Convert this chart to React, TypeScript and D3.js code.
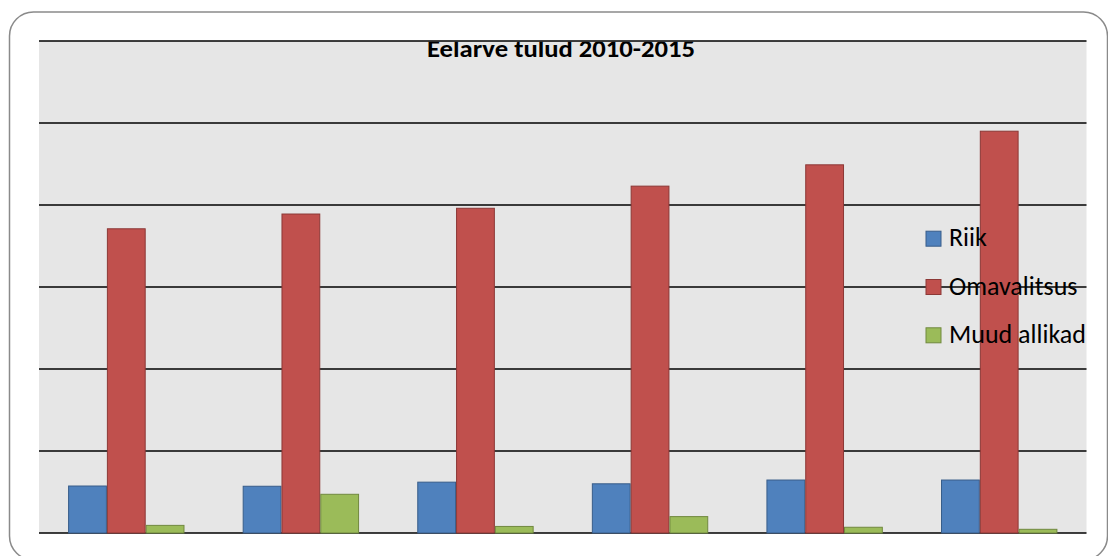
import React from "react";
import * as d3 from "d3";

const years = ["2010", "2011", "2012", "2013", "2014", "2015"];
const seriesNames = ["Riik", "Omavalitsus", "Muud allikad"];
const riik = [0.573, 0.57, 0.62, 0.6, 0.646, 0.646];
const omavalitsus = [3.71, 3.89, 3.96, 4.23, 4.49, 4.9];
const muudAllikad = [0.093, 0.472, 0.08, 0.2, 0.07, 0.045];
const yTicks = [0, 1, 2, 3, 4, 5, 6];
const title = "Eelarve tulud 2010-2015";

const fills = ["#4F81BD", "#C0504D", "#9BBB59"];
const strokes = ["#385D8A", "#8C3836", "#71893F"];

export default function App() {
  const W = 1108;
  const H = 556;
  const plot = { left: 39, right: 1086.5, top: 41, bottom: 533 };
  const values = [riik, omavalitsus, muudAllikad];

  const x0 = d3
    .scaleBand<string>()
    .domain(years)
    .range([plot.left, plot.right])
    .paddingInner(0)
    .paddingOuter(0);
  const bw = x0.bandwidth();
  const barW = bw / (3 + 1.5);
  const x1 = d3
    .scaleBand<string>()
    .domain(seriesNames)
    .range([barW * 0.75, barW * 0.75 + barW * 3])
    .padding(0);
  const y = d3.scaleLinear().domain([0, 6]).range([plot.bottom, plot.top]);

  const font = "Carlito, Calibri, 'Open Sans', 'Liberation Sans', sans-serif";
  const legendX = 926;
  const legendY0 = 238.7;
  const legendStep = 48.3;

  return (
    <svg
      width={W}
      height={H}
      style={{ position: "absolute", left: 0, top: 0, display: "block" }}
    >
      <defs>
        <clipPath id="titleClip">
          <rect x={0} y={41.8} width={W} height={H} />
        </clipPath>
      </defs>
      <rect x={0} y={0} width={W} height={H} fill="#ffffff" />
      <rect
        x={9.5}
        y={12}
        width={1098}
        height={548}
        rx={24}
        ry={24}
        fill="#ffffff"
        stroke="#8a8a8a"
        strokeWidth={1.5}
      />
      <rect
        x={plot.left}
        y={plot.top}
        width={plot.right - plot.left}
        height={plot.bottom - plot.top}
        fill="#E6E6E6"
      />
      {yTicks.map((t) => (
        <line
          key={t}
          x1={plot.left}
          x2={plot.right}
          y1={y(t)}
          y2={y(t)}
          stroke="#000000"
          strokeWidth={1.6}
        />
      ))}
      {years.map((yr, i) => (
        <g key={yr} transform={`translate(${x0(yr)},0)`}>
          {seriesNames.map((s, k) => {
            const v = values[k][i];
            return (
              <rect
                key={s}
                x={(x1(s) as number) + 0.5}
                y={y(v)}
                width={x1.bandwidth() - 1}
                height={y(0) - y(v)}
                fill={fills[k]}
                stroke={strokes[k]}
                strokeWidth={1}
              />
            );
          })}
        </g>
      ))}
      <text
        x={561}
        y={56.5}
        textAnchor="middle"
        fontFamily={font}
        fontWeight="bold"
        fontSize={24}
        textLength={268}
        lengthAdjust="spacingAndGlyphs"
        fill="#000000"
        clipPath="url(#titleClip)"
      >
        {title}
      </text>
      {seriesNames.map((s, k) => (
        <g key={s}>
          <rect
            x={legendX}
            y={legendY0 + k * legendStep - 7.5}
            width={15}
            height={15}
            fill={fills[k]}
            stroke={strokes[k]}
            strokeWidth={1}
          />
          <text
            x={949}
            y={legendY0 + k * legendStep + 7.7}
            fontFamily={font}
            fontSize={26}
            fill="#000000"
          >
            {s}
          </text>
        </g>
      ))}
    </svg>
  );
}
